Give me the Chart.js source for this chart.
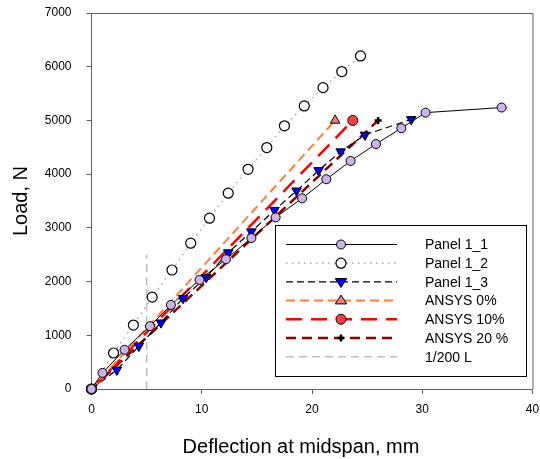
<!DOCTYPE html>
<html lang="en">
<head>
    <meta charset="UTF-8" />
    <title>Load vs deflection</title>
    <script src="https://cdn.jsdelivr.net/npm/chart.js"></script>
    <style>
        body { margin: 0; background: #fff; }
        #wrap { width: 540px; height: 459px; position: relative; }
    </style>
</head>
<body>

<div id="wrap">
    <canvas id="loadChart"></canvas>
</div>

<script>
    // Measured curves (deflection in mm, load in N)
    const panel11X = [0, 1.0, 3.0, 5.3, 7.2, 9.8, 12.2, 14.5, 16.7, 19.1, 21.3, 23.5, 25.8, 28.1, 30.3, 37.2];
    const panel11Y = [0, 300, 730, 1170, 1565, 2030, 2415, 2810, 3195, 3550, 3905, 4245, 4560, 4855, 5145, 5240];

    const panel12X = [0, 2.0, 3.8, 5.5, 7.3, 9.0, 10.7, 12.4, 14.2, 15.9, 17.5, 19.3, 21.0, 22.7, 24.4];
    const panel12Y = [0, 670, 1190, 1710, 2215, 2715, 3180, 3645, 4090, 4495, 4900, 5270, 5610, 5910, 6200];

    const panel13X = [0, 2.3, 4.3, 6.3, 8.3, 10.4, 12.4, 14.5, 16.6, 18.6, 20.6, 22.6, 24.8, 29.0];
    const panel13Y = [0, 355, 800, 1235, 1690, 2080, 2540, 2930, 3330, 3690, 4070, 4420, 4730, 5020];

    // FE results
    const ansys0X = [0, 22.1];
    const ansys0Y = [0, 5000];
    const ansys10X = [0, 23.7];
    const ansys10Y = [0, 5000];
    const ansys20X = [0, 26.0];
    const ansys20Y = [0, 5000];

    // L/200 limit
    const limitX = [5, 5];
    const limitY = [0, 2500];

    const xTicks = [0, 10, 20, 30, 40];
    const yTicks = [0, 1000, 2000, 3000, 4000, 5000, 6000, 7000];

    const labels = ['Panel 1_1', 'Panel 1_2', 'Panel 1_3', 'ANSYS 0%', 'ANSYS 10%', 'ANSYS 20 %', '1/200 L'];

    function pts(xs, ys) {
        return xs.map((x, i) => ({ x: x, y: ys[i] }));
    }

    const axisGray = '#606060';

    // draws a marker the same way for the legend
    function drawMarker(ctx, ds, x, y) {
        const r = ds.pointRadius;
        if (!r) return;
        ctx.save();
        ctx.setLineDash([]);
        ctx.fillStyle = ds.pointBackgroundColor;
        ctx.strokeStyle = ds.pointBorderColor;
        ctx.lineWidth = ds.pointBorderWidth;
        ctx.beginPath();
        if (ds.pointStyle === 'circle') {
            ctx.arc(x, y, r, 0, Math.PI * 2);
            ctx.fill();
            ctx.stroke();
        } else if (ds.pointStyle === 'triangle') {
            const s = ds.pointRotation === 180 ? -1 : 1;
            ctx.moveTo(x, y - s * r);
            ctx.lineTo(x + r * 0.87 * 1.2, y + s * r * 0.6);
            ctx.lineTo(x - r * 0.87 * 1.2, y + s * r * 0.6);
            ctx.closePath();
            ctx.fill();
            ctx.stroke();
        } else if (ds.pointStyle === 'cross') {
            ctx.moveTo(x - r, y);
            ctx.lineTo(x + r, y);
            ctx.moveTo(x, y - r);
            ctx.lineTo(x, y + r);
            ctx.stroke();
        }
        ctx.restore();
    }

    const framePlugin = {
        id: 'frame',
        beforeDatasetsDraw(chart) {
            const { ctx, chartArea: a } = chart;
            ctx.save();
            ctx.strokeStyle = axisGray;
            ctx.lineWidth = 1;
            ctx.beginPath();
            ctx.moveTo(a.left, a.top + 0.5);
            ctx.lineTo(a.right + 0.5, a.top + 0.5);
            ctx.lineTo(a.right + 0.5, a.bottom);
            ctx.stroke();
            ctx.restore();
        },
        afterDraw(chart) {
            const ctx = chart.ctx;
            // x axis title
            ctx.save();
            ctx.fillStyle = '#000';
            ctx.font = '20px "Liberation Sans", Arial, sans-serif';
            ctx.textAlign = 'center';
            ctx.textBaseline = 'middle';
            ctx.fillText('Deflection at midspan, mm', 301, 447);
            ctx.restore();

            // legend box
            const bx = 275.5, by = 225.5, bw = 251, bh = 151;
            ctx.save();
            ctx.fillStyle = '#fff';
            ctx.fillRect(bx, by, bw, bh);
            ctx.strokeStyle = '#000';
            ctx.lineWidth = 1;
            ctx.strokeRect(bx, by, bw, bh);
            ctx.font = '14px "Liberation Sans", Arial, sans-serif';
            ctx.textBaseline = 'middle';
            chart.data.datasets.forEach((ds, i) => {
                const y = 244.5 + i * 18.7;
                ctx.save();
                ctx.strokeStyle = ds.borderColor;
                ctx.lineWidth = ds.borderWidth;
                ctx.setLineDash(ds.borderDash || []);
                ctx.beginPath();
                ctx.moveTo(286, y);
                ctx.lineTo(397, y);
                ctx.stroke();
                ctx.restore();
                drawMarker(ctx, ds, 341, y);
                ctx.fillStyle = '#000';
                ctx.fillText(ds.label, 425, y + 1);
            });
            ctx.restore();
        }
    };

    Chart.defaults.font.family = '"Liberation Sans", Arial, sans-serif';
    Chart.defaults.color = '#000';

    const ctx = document.getElementById('loadChart').getContext('2d');

    new Chart(ctx, {
        type: 'line',
        data: {
            datasets: [
                {
                    label: labels[0],
                    data: pts(panel11X, panel11Y),
                    borderColor: '#000',
                    borderWidth: 1,
                    pointStyle: 'circle',
                    pointRadius: 4.5,
                    pointBackgroundColor: '#cbb3ec',
                    pointBorderColor: '#000',
                    pointBorderWidth: 1
                },
                {
                    label: labels[1],
                    data: pts(panel12X, panel12Y),
                    borderColor: '#9a9a9a',
                    borderWidth: 1.2,
                    borderDash: [1.5, 4.5],
                    pointStyle: 'circle',
                    pointRadius: 5,
                    pointBackgroundColor: '#fff',
                    pointBorderColor: '#000',
                    pointBorderWidth: 1.2
                },
                {
                    label: labels[2],
                    data: pts(panel13X, panel13Y),
                    borderColor: '#000',
                    borderWidth: 1.2,
                    borderDash: [7, 4],
                    pointStyle: 'triangle',
                    pointRotation: 180,
                    pointRadius: 5.5,
                    pointBackgroundColor: '#0000ff',
                    pointBorderColor: '#000',
                    pointBorderWidth: 1
                },
                {
                    label: labels[3],
                    data: pts(ansys0X, ansys0Y),
                    borderColor: '#ff8040',
                    borderWidth: 2,
                    borderDash: [9, 5],
                    pointStyle: 'triangle',
                    pointRadius: 5.5,
                    pointBackgroundColor: '#f08080',
                    pointBorderColor: '#000',
                    pointBorderWidth: 1
                },
                {
                    label: labels[4],
                    data: pts(ansys10X, ansys10Y),
                    borderColor: '#ff0000',
                    borderWidth: 2.5,
                    borderDash: [16, 9],
                    pointStyle: 'circle',
                    pointRadius: 5,
                    pointBackgroundColor: '#ff4040',
                    pointBorderColor: '#000',
                    pointBorderWidth: 1
                },
                {
                    label: labels[5],
                    data: pts(ansys20X, ansys20Y),
                    borderColor: '#900000',
                    borderWidth: 2.5,
                    borderDash: [10, 6],
                    pointStyle: 'cross',
                    pointRadius: 3.5,
                    pointBackgroundColor: '#000',
                    pointBorderColor: '#000',
                    pointBorderWidth: 2.5
                },
                {
                    label: labels[6],
                    data: pts(limitX, limitY),
                    borderColor: '#bdbdbd',
                    borderWidth: 1.5,
                    borderDash: [8, 5],
                    pointRadius: 0
                }
            ]
        },
        options: {
            responsive: true,
            maintainAspectRatio: false,
            animation: false,
            clip: false,
            layout: { padding: { top: 13, right: 7.5, bottom: 0, left: 0 } },
            elements: { line: { tension: 0, fill: false } },
            scales: {
                x: {
                    type: 'linear',
                    min: 0,
                    max: 40,
                    afterFit: s => {
                        s.height = 70;
                        s.paddingLeft = 0;
                        s.paddingRight = 0;
                    },
                    afterBuildTicks: s => { s.ticks = xTicks.map(v => ({ value: v })); },
                    border: { color: axisGray, width: 1 },
                    grid: { drawOnChartArea: false, drawTicks: true, tickLength: 5, color: axisGray },
                    ticks: { font: { size: 12 }, padding: 8, maxRotation: 0, callback: v => String(v) }
                },
                y: {
                    min: 0,
                    max: 7000,
                    afterFit: s => {
                        s.width = 91.5;
                        s.paddingTop = 0;
                        s.paddingBottom = 0;
                    },
                    afterBuildTicks: s => { s.ticks = yTicks.map(v => ({ value: v })); },
                    border: { color: axisGray, width: 1 },
                    grid: { drawOnChartArea: false, drawTicks: true, tickLength: 5, color: axisGray },
                    ticks: { font: { size: 12 }, padding: 15, callback: v => String(v) },
                    title: {
                        display: true,
                        text: 'Load, N',
                        font: { size: 20 },
                        padding: { top: 9, bottom: 0 }
                    }
                }
            },
            plugins: {
                legend: { display: false },
                tooltip: { enabled: false }
            }
        },
        plugins: [framePlugin]
    });
</script>

</body>
</html>
